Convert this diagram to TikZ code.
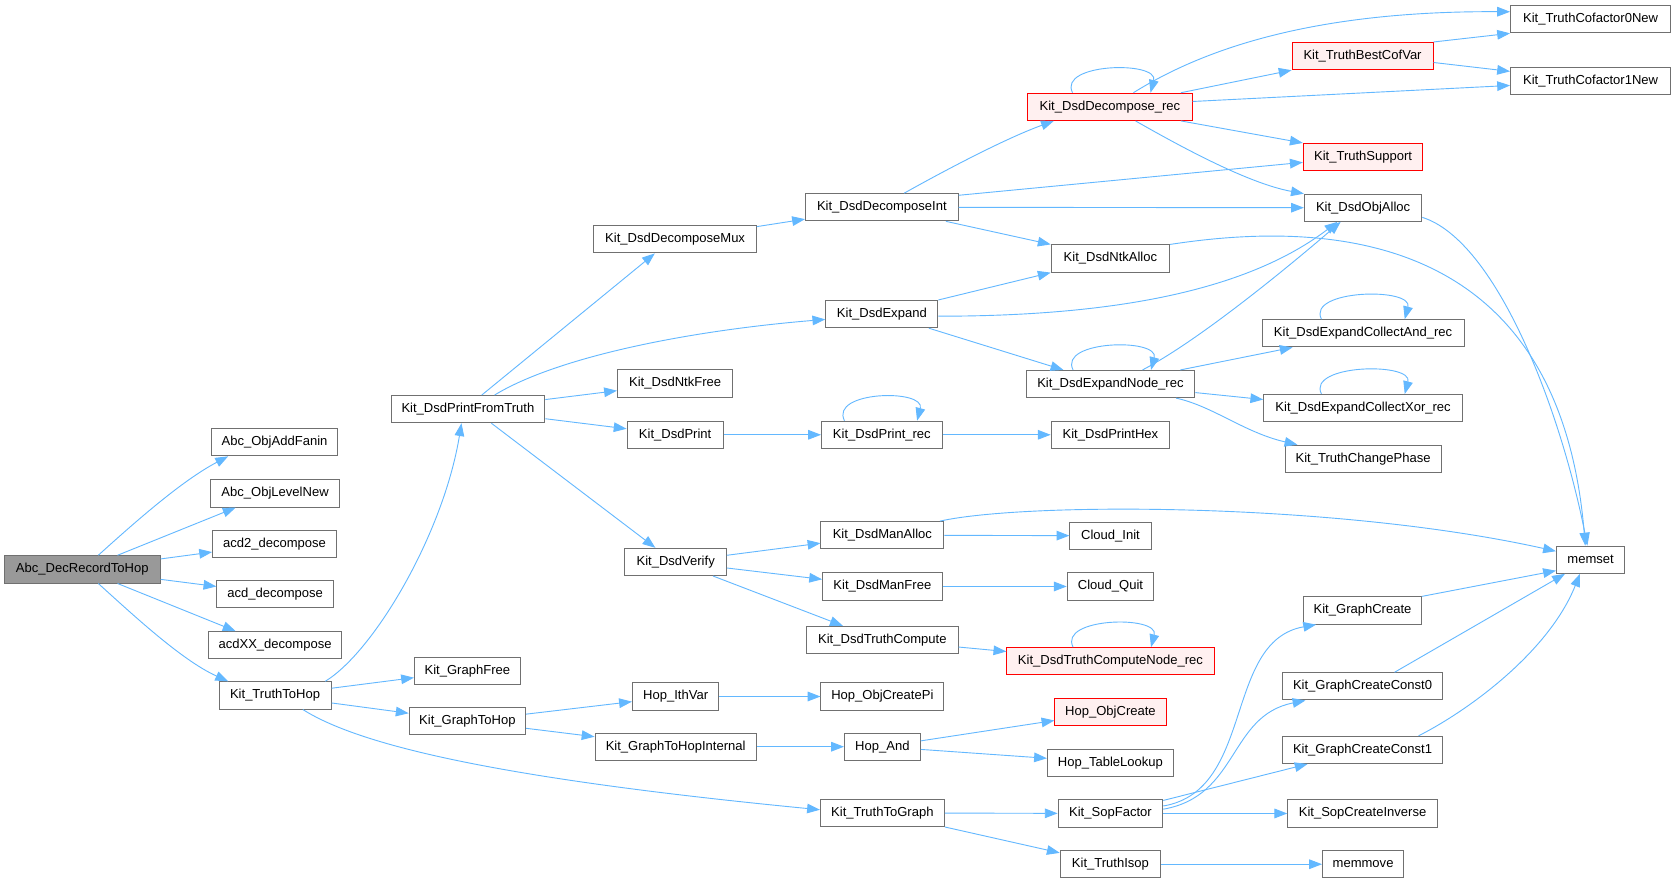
\documentclass[tikz,border=0pt]{standalone}
\usepackage{fontspec}
\setmainfont{Liberation Sans}
\usetikzlibrary{arrows.meta}
\definecolor{edgec}{HTML}{63B8FF}
\definecolor{boxc}{HTML}{707070}
\definecolor{redc}{HTML}{FF0000}
\definecolor{pinkc}{HTML}{FFF0F0}
\definecolor{rootc}{HTML}{999999}
\begin{document}
\begin{tikzpicture}[x=1pt,y=-1pt,
  fn/.style={draw=boxc, fill=white, line width=0.9pt, minimum height=25.5pt, inner sep=0pt,
    font=\fontsize{12.2}{14}\selectfont, anchor=center, minimum width=#1},
  fn/.default=100pt,
  hl/.style={fn=#1, draw=redc, fill=pinkc},
  root/.style={fn=#1, fill=rootc},
  e/.style={draw=edgec, line width=0.85pt, -{Triangle[length=12pt,width=9pt]}},
  lp/.style={e},
]
\fill[white] (0,0) rectangle (1568,827);
\useasboundingbox (0,0) rectangle (1568,827);

% column 1
\node[root=146pt] (A) at (77,533) {Abc\_DecRecordToHop};
% column 2
\node[fn=118pt] (AOF) at (257,414) {Abc\_ObjAddFanin};
\node[fn=121pt] (ALN) at (257.5,462) {Abc\_ObjLevelNew};
\node[fn=116pt] (ACDB) at (257,509) {acd2\_decompose};
\node[fn=109pt] (ACD) at (257.5,556) {acd\_decompose};
\node[fn=125pt] (XX) at (257.5,604) {acdXX\_decompose};
\node[fn=105pt] (TTH) at (257.5,651) {Kit\_TruthToHop};
% column 3
\node[fn=144pt] (PFT) at (438,383) {Kit\_DsdPrintFromTruth};
\node[fn=99pt] (GF) at (437.5,628) {Kit\_GraphFree};
\node[fn=109pt] (GTH) at (437.5,675) {Kit\_GraphToHop};
% column 4
\node[fn=152pt] (MUX) at (632,224) {Kit\_DsdDecomposeMux};
\node[fn=108pt] (NF) at (632,359) {Kit\_DsdNtkFree};
\node[fn=90pt] (PRZ) at (632,407) {Kit\_DsdPrint};
\node[fn=95pt] (VER) at (632.5,526) {Kit\_DsdVerify};
\node[fn=81pt] (IV) at (632.5,652) {Hop\_IthVar};
\node[fn=151pt] (GTHI) at (632.5,699) {Kit\_GraphToHopInternal};
% column 5
\node[fn=143pt] (DI) at (825.5,194) {Kit\_DsdDecomposeInt};
\node[fn=105pt] (DE) at (825.5,294) {Kit\_DsdExpand};
\node[fn=113pt] (PR) at (825.5,407) {Kit\_DsdPrint\_rec};
\node[fn=115pt] (MA) at (826,501) {Kit\_DsdManAlloc};
\node[fn=112pt] (MF) at (826,549) {Kit\_DsdManFree};
\node[fn=142pt] (TC) at (826,599) {Kit\_DsdTruthCompute};
\node[fn=115pt] (OCP) at (826,652) {Hop\_ObjCreatePi};
\node[fn=71pt] (HA) at (826,699) {Hop\_And};
\node[fn=116pt] (TTG) at (826,761) {Kit\_TruthToGraph};
% column 6
\node[hl=154pt] (DR) at (1039,100) {Kit\_DsdDecompose\_rec};
\node[fn=111pt] (NA) at (1039.5,242) {Kit\_DsdNtkAlloc};
\node[fn=158pt] (EN) at (1039.5,359.5) {Kit\_DsdExpandNode\_rec};
\node[fn=111pt] (PH) at (1039.5,407) {Kit\_DsdPrintHex};
\node[fn=76pt] (CI) at (1039.5,501.5) {Cloud\_Init};
\node[fn=81pt] (CQ) at (1039.5,549) {Cloud\_Quit};
\node[hl=194pt] (TCN) at (1039.5,619) {Kit\_DsdTruthComputeNode\_rec};
\node[hl=104pt] (HOC) at (1039.5,666.5) {Hop\_ObjCreate};
\node[fn=118pt] (TL) at (1039.5,714) {Hop\_TableLookup};
\node[fn=98pt] (SF) at (1039.5,761.5) {Kit\_SopFactor};
\node[fn=94pt] (TI) at (1039.5,809) {Kit\_TruthIsop};
% column 7
\node[hl=132pt] (BCV) at (1275.5,52.5) {Kit\_TruthBestCofVar};
\node[hl=112pt] (TS) at (1276,147) {Kit\_TruthSupport};
\node[fn=110pt] (DOA) at (1276,194.5) {Kit\_DsdObjAlloc};
\node[fn=189pt] (CA) at (1276,312) {Kit\_DsdExpandCollectAnd\_rec};
\node[fn=186pt] (CX) at (1276,382) {Kit\_DsdExpandCollectXor\_rec};
\node[fn=146pt] (TCP) at (1276,429.5) {Kit\_TruthChangePhase};
\node[fn=110pt] (GC) at (1275.5,571.5) {Kit\_GraphCreate};
\node[fn=150pt] (CZ) at (1275.5,642.5) {Kit\_GraphCreateConst0};
\node[fn=150pt] (CO) at (1275.5,702) {Kit\_GraphCreateConst1};
\node[fn=140pt] (SCI) at (1275.5,761.5) {Kit\_SopCreateInverse};
\node[fn=76pt] (MM) at (1276,809) {memmove};
% column 8
\node[fn=150pt] (CFZ) at (1489,18) {Kit\_TruthCofactor0New};
\node[fn=150pt] (CFO) at (1489,76) {Kit\_TruthCofactor1New};
\node[fn=64pt] (MS) at (1489,524) {memset};

% edges from root
\draw[e] ([xshift=15pt]A.north) .. controls (125,490) and (170,450) .. ([xshift=16pt]AOF.south west);
\draw[e] ([xshift=33pt]A.north) -- ([xshift=24pt]ALN.south west);
\draw[e] (A) -- (ACDB);
\draw[e] (A) -- (ACD);
\draw[e] ([xshift=33pt]A.south) -- ([xshift=26pt]XX.north west);
\draw[e] ([xshift=15pt]A.south) .. controls (125,576) and (170,618) .. ([xshift=9pt]TTH.north west);

% Kit_TruthToHop
\draw[e] ([xshift=-6pt]TTH.north east) .. controls (350,610) and (415,500) .. ([xshift=-6pt]PFT.south);
\draw[e] (TTH) -- (GF);
\draw[e] (TTH) -- (GTH);
\draw[e] ([xshift=26pt]TTH.south) .. controls (340,700) and (480,730) .. ([yshift=3pt]TTG.west);

% Kit_DsdPrintFromTruth
\draw[e] ([xshift=13pt]PFT.north) -- ([xshift=-19pt]MUX.south);
\draw[e] ([xshift=25pt]PFT.north) .. controls (520,335) and (640,310) .. ([yshift=-5pt]DE.west);
\draw[e] (PFT) -- (NF);
\draw[e] (PFT) -- (PRZ);
\draw[e] ([xshift=22pt]PFT.south) -- ([xshift=-19pt]VER.north);

% Mux / DecomposeInt
\draw[e] (MUX) -- (DI);
\draw[e] ([xshift=21pt]DI.north) .. controls (880,162) and (940,130) .. ([xshift=25pt]DR.south west);
\draw[e] ([yshift=-2pt]DI.north east) -- ([yshift=-5pt]TS.west);
\draw[e] (DI) -- (DOA);
\draw[e] ([xshift=-12pt]DI.south east) -- (NA.north west);

% Expand
\draw[e] (DE.north east) -- (NA.south west);
\draw[e] ([yshift=-2pt]DE.east) .. controls (1050,296) and (1170,270) .. ([xshift=-24pt]DOA.south);
\draw[e] ([xshift=-9pt]DE.south east) -- ([xshift=-44pt]EN.north);

% Print
\draw[e] (PRZ) -- (PR);
\draw[lp] ([xshift=-35pt]PR.north) .. controls +(-14,-28) and +(8,-30) .. ([xshift=33pt]PR.north);
\draw[e] (PR) -- (PH);

% Verify
\draw[e] (VER) -- (MA);
\draw[e] (VER) -- (MF);
\draw[e] ([xshift=-13pt]VER.south east) -- ([xshift=-37pt]TC.north);
\draw[e] (MA) -- (CI);
\draw[e] ([xshift=-4pt]MA.north east) .. controls (960,470) and (1250,470) .. ([yshift=8pt]MS.west);
\draw[e] (MF) -- (CQ);
\draw[e] (TC) -- (TCN);
\draw[lp] ([xshift=-35pt]TCN.north) .. controls +(-14,-28) and +(8,-30) .. ([xshift=38pt]TCN.north);

% GraphToHop
\draw[e] (GTH) -- (IV);
\draw[e] (GTH) -- (GTHI);
\draw[e] (IV) -- (OCP);
\draw[e] (GTHI) -- (HA);
\draw[e] (HA) -- (HOC);
\draw[e] (HA) -- (TL);

% TruthToGraph
\draw[e] (TTG) -- (SF);
\draw[e] (TTG) -- (TI);
\draw[e] (TI) -- (MM);
\draw[e] (SF) -- (SCI);
\draw[e] ([yshift=-1pt]SF.north east) -- ([xshift=24pt]CO.south west);
\draw[e] ([yshift=4pt]SF.east) .. controls (1160,745) and (1150,670) .. ([xshift=22pt]CZ.south west);
\draw[e] ([yshift=7pt]SF.east) .. controls (1175,740) and (1145,600) .. ([xshift=12pt]GC.south west);

% into memset
\draw[e] (GC.north east) -- ([yshift=3pt]MS.south west);
\draw[e] ([xshift=30pt]CZ.north) -- ([xshift=-24pt]MS.south);
\draw[e] ([xshift=-23pt]CO.north east) .. controls (1375,665) and (1450,610) .. ([xshift=-10pt]MS.south);
\draw[e] ([yshift=-9pt]DOA.east) .. controls (1400,225) and (1460,380) .. ([xshift=-3pt]MS.north);
\draw[e] (NA.north east) .. controls (1250,205) and (1460,220) .. ([xshift=-5pt]MS.north);

% DecomposeRec
\draw[lp] ([xshift=-35pt]DR.north) .. controls +(-14,-28) and +(8,-30) .. ([xshift=38pt]DR.north);
\draw[e] ([xshift=22pt]DR.north) .. controls (1120,50) and (1220,10) .. ([yshift=7pt]CFZ.west);
\draw[e] ([xshift=-11pt]DR.north east) -- (BCV.south west);
\draw[e] ([yshift=5pt]DR.east) -- ([yshift=-4pt]CFO.west);
\draw[e] ([xshift=-11pt]DR.south east) -- (TS.north west);
\draw[e] ([xshift=24pt]DR.south) .. controls (1110,140) and (1170,172) .. (DOA.north west);

% BestCofVar
\draw[e] (BCV.north east) -- (CFZ.south west);
\draw[e] ([yshift=-6pt]BCV.east) -- ([yshift=-4pt]CFO.north west);

% ExpandNode_rec
\draw[lp] ([xshift=-35pt]EN.north) .. controls +(-14,-28) and +(8,-30) .. ([xshift=38pt]EN.north);
\draw[e] ([xshift=30pt]EN.north) .. controls (1120,320) and (1200,255) .. ([xshift=-21pt]DOA.south);
\draw[e] ([xshift=-14pt]EN.north east) -- ([xshift=29pt]CA.south west);
\draw[e] ([yshift=-8pt]EN.east) -- ([yshift=8pt]CX.west);
\draw[e] ([xshift=-18pt]EN.south east) .. controls (1135,380) and (1165,405) .. ([xshift=12pt]TCP.north west);
\draw[lp] ([xshift=-39pt]CA.north) .. controls +(-14,-28) and +(8,-30) .. ([xshift=39pt]CA.north);
\draw[lp] ([xshift=-39pt]CX.north) .. controls +(-14,-28) and +(8,-30) .. ([xshift=39pt]CX.north);
\end{tikzpicture}
\end{document}
